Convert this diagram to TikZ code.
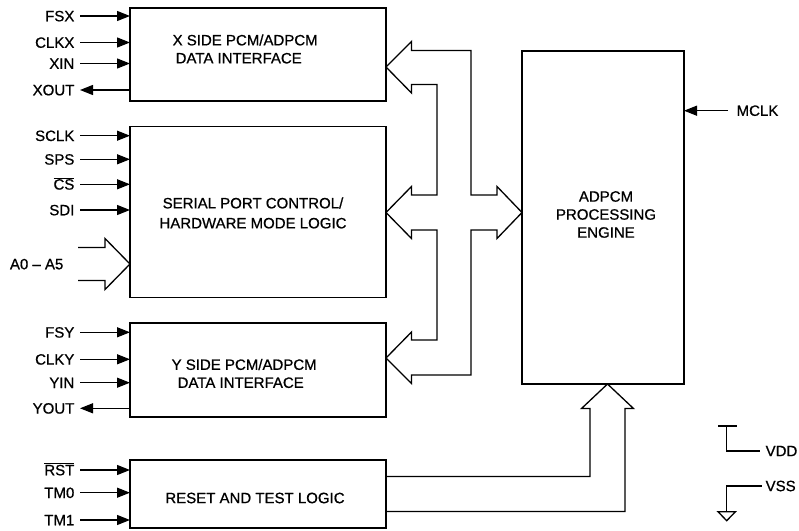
\documentclass[tikz,border=0pt]{standalone}
\usepackage{fontspec}
\setmainfont{Liberation Sans}
\usetikzlibrary{arrows.meta,calc}
\begin{document}
\begin{tikzpicture}[x=1pt,y=-1pt,
  line width=1.3pt, line join=miter,
  blk/.style={draw, rectangle, anchor=north west, inner sep=0pt, outer sep=0pt},
  txt/.style={font=\fontsize{15}{18}\selectfont\addfontfeature{FakeBold=0.8}, inner sep=0pt},
  sig/.style={txt, anchor=base east},
  inp/.style={-{Triangle[length=13pt,width=10pt]}},
  ]
\useasboundingbox (0,0) rectangle (799,530);

% blocks
\node[blk, minimum width=256pt, minimum height=93pt]  (X) at (130,8) {};
\node[blk, minimum width=256pt, minimum height=171pt] (S) at (130,126.5) {};
\node[blk, minimum width=256pt, minimum height=94pt]  (Y) at (130,323) {};
\node[blk, minimum width=256pt, minimum height=68pt]  (R) at (130,460) {};
\node[blk, minimum width=162pt, minimum height=333pt] (E) at (522,51) {};

% block texts
\node[txt, anchor=west, align=left] (Xt) at (172,49) {X SIDE PCM/ADPCM\\\hspace{3pt}DATA INTERFACE};
\node[txt, anchor=west, align=left] (Yt) at (171,373.5) {Y SIDE PCM/ADPCM\\\hspace{6pt}DATA INTERFACE};
\node[txt, align=center, font=\fontsize{15}{20}\selectfont\addfontfeature{FakeBold=0.8}] (St) at (253,213) {SERIAL PORT CONTROL/\\HARDWARE MODE LOGIC};
\node[txt, align=center, font=\fontsize{15}{18}\selectfont\addfontfeature{FakeBold=0.8}] (Et) at (606,214.5) {ADPCM\\PROCESSING\\ENGINE};
\node[txt] (Rt) at (255,498) {RESET AND TEST LOGIC};

% input signals
\foreach \n/\t/\y/\b in {FSX/FSX/16/X, CLKX/CLKX/42.5/X, XIN/XIN/63.5/X,
    SCLK/SCLK/135.7/S, SPS/SPS/159.3/S, CS/{$\overline{\mbox{CS}}$}/184.3/S, SDI/SDI/210/S,
    FSY/FSY/332.3/Y, CLKY/CLKY/359.3/Y, YIN/YIN/382.7/Y,
    RST/{$\overline{\mbox{RST}}$}/470/R, TM0/TM0/492.7/R, TM1/TM1/520/R}{
  \coordinate (c\n) at (80,\y);
  \node[sig] (l\n) at (75,\y+5.3) {\t};
  \draw[inp] (c\n) -- (c\n -| \b.west);
}
% output signals
\foreach \n/\y/\b in {XOUT/90/X, YOUT/408.3/Y}{
  \coordinate (c\n) at (80,\y);
  \node[sig] (l\n) at (75,\y+5.3) {\n};
  \draw[inp] (c\n -| \b.west) -- (c\n);
}

% A0 - A5 hollow bus arrow
\coordinate (cA) at (78,264);
\node[sig] (lA) at (64,269.3) {A0 -- A5};
\draw (78,247.5) -- (105,247.5) -- (105,238.5) -- (S.west |- cA) -- (105,289.5) -- (105,280.5) -- (78,280.5);

% internal bus
\draw (X.east |- 0,67) -- (411.5,41.5) -- (411.5,50.5) -- (471,50.5) -- (471,195) -- (497,195) -- (497,186.5)
  -- (E.west |- 0,212.5) -- (497,238.5) -- (497,230) -- (471,230) -- (471,375) -- (411.5,375) -- (411.5,383.5)
  -- (Y.east |- 0,358) -- (411.5,332) -- (411.5,340) -- (437,340) -- (437,230) -- (411.5,230) -- (411.5,238.5)
  -- (S.east |- 0,212.5) -- (411.5,186.5) -- (411.5,195) -- (437,195) -- (437,84.5) -- (411.5,84.5) -- (411.5,93) -- cycle;

% reset/test bus to engine
\draw (R.east |- 0,476.5) -- (590,476.5) -- (590,408.5) -- (581.5,408.5) -- (E.south -| 607.5,0) -- (633.5,408.5)
  -- (625,408.5) -- (625,511.5) -- (R.east |- 0,511.5);

% MCLK
\coordinate (cM) at (728,110.7);
\draw[inp] (cM) -- (cM -| E.east);
\node[txt, anchor=west] (lM) at (736,110.7) {MCLK};

% VDD / VSS
\coordinate (vdd) at (726.7,451);
\coordinate (vss) at (726.7,486);
\draw (718.3,426) -- (736.7,426);
\draw (726.7,426) -- (vdd) -- (760,451);
\node[txt, anchor=west] (lVDD) at (765,451) {VDD};
\draw (761.7,486) -- (vss) -- (726.7,511.7);
\draw (718,511.7) -- (735.4,511.7) -- (726.7,520.7) -- cycle;
\node[txt, anchor=west] (lVSS) at (765,486) {VSS};
\end{tikzpicture}
\end{document}
